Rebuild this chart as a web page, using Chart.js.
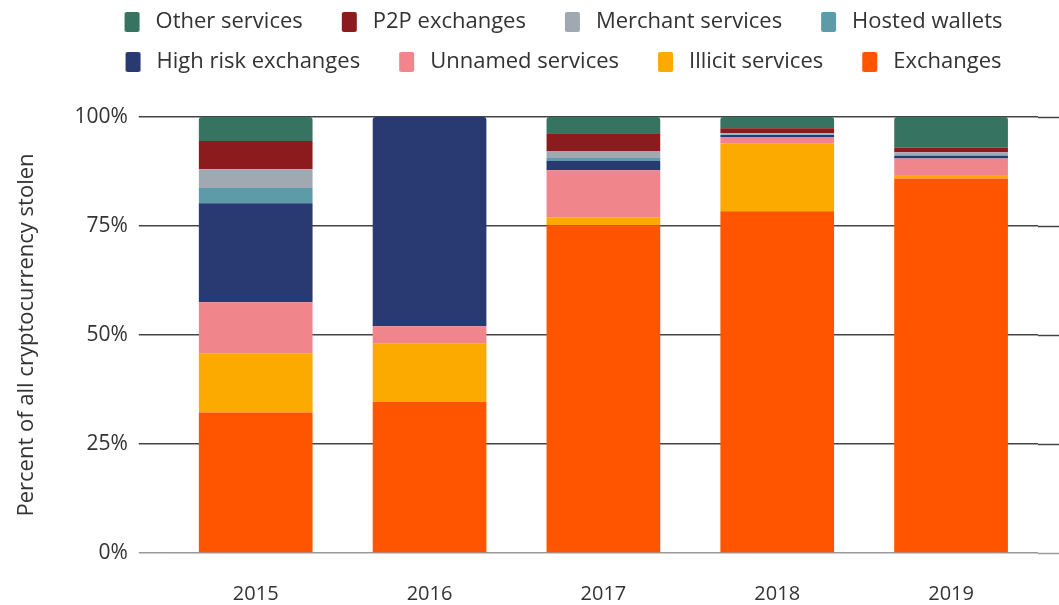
<!DOCTYPE html>
<html>
<head>
<meta charset="utf-8">
<script src="https://cdn.jsdelivr.net/npm/chart.js@4/dist/chart.umd.min.js"></script>
<style>
  html, body { margin: 0; padding: 0; background: #fff; }
  #wrap { width: 1059px; height: 605px; }
</style>
</head>
<body>
<div id="wrap"><canvas id="chart"></canvas></div>
<script>
// stolen crypto destinations, share of total (%)
const years = ['2015', '2016', '2017', '2018', '2019'];
const exchanges = [32.2, 34.7, 75.2, 78.4, 85.9];
const illicit = [13.5, 13.3, 1.8, 15.6, 0.8];
const unnamed = [11.8, 4.0, 10.8, 1.4, 3.8];
const highRisk = [22.7, 48.0, 2.1, 0.5, 0.6];
const hosted = [3.5, 0, 0.7, 0.1, 0.1];
const merchant = [4.3, 0, 1.6, 0.3, 0.7];
const p2p = [6.5, 0, 4.1, 1.1, 1.1];
const other = [5.5, 0, 3.7, 2.6, 7.0];
const yTicks = [0, 25, 50, 75, 100];

const FONT = '"Open Sans", "Noto Sans", sans-serif';
const TEXT = '#333333';

// bottom of the stack first, legend is reversed
const series = [
  { label: 'Exchanges', data: exchanges, color: '#ff5500' },
  { label: 'Illicit services', data: illicit, color: '#fcaa00' },
  { label: 'Unnamed services', data: unnamed, color: '#f0858b' },
  { label: 'High risk exchanges', data: highRisk, color: '#283a71' },
  { label: 'Hosted wallets', data: hosted, color: '#5c9ba7' },
  { label: 'Merchant services', data: merchant, color: '#a0a8b1' },
  { label: 'P2P exchanges', data: p2p, color: '#8b1b1c' },
  { label: 'Other services', data: other, color: '#367360' }
];

// legend swatch: small rounded box with some blank room on its left
const SWATCH_LEAD = 21;
const SWATCH_W = 15;
const SWATCH_H = 20;
const SWATCH_SLOT = SWATCH_LEAD + SWATCH_W + 5;

function makeSwatch(color) {
  const c = document.createElement('canvas');
  c.width = SWATCH_SLOT;
  c.height = SWATCH_H;
  const g = c.getContext('2d');
  g.fillStyle = color;
  g.beginPath();
  g.roundRect(SWATCH_LEAD, 0, SWATCH_W, SWATCH_H, 2);
  g.fill();
  return c;
}
const swatches = series.map(s => makeSwatch(s.color));

// grid lines run on to the right edge of the canvas
const extendGrid = {
  id: 'extendGrid',
  beforeDatasetsDraw(chart) {
    const { ctx, chartArea, scales } = chart;
    ctx.save();
    yTicks.forEach(v => {
      const y = Math.round(scales.y.getPixelForValue(v)) + 0.5;
      ctx.strokeStyle = v === 0 ? '#9a9a9a' : '#444444';
      ctx.lineWidth = 1.5;
      ctx.beginPath();
      ctx.moveTo(chartArea.right, y);
      ctx.lineTo(chart.width, y);
      ctx.stroke();
    });
    ctx.restore();
  }
};

// extra room under the legend, and nudge it sideways
const legendGap = {
  id: 'legendGap',
  beforeInit(chart) {
    const fit = chart.legend.fit;
    chart.legend.fit = function () {
      fit.bind(chart.legend)();
      this.height += 34;
    };
  },
  afterLayout(chart) {
    chart.legend.left += 29;
    chart.legend.right += 29;
  }
};

new Chart(document.getElementById('chart'), {
  type: 'bar',
  data: {
    labels: years,
    datasets: series.map(s => ({
      label: s.label,
      data: s.data,
      backgroundColor: s.color,
      borderWidth: 0,
      borderRadius: 3,
      borderSkipped: 'start',
      categoryPercentage: 1,
      barPercentage: 0.654
    }))
  },
  options: {
    responsive: true,
    maintainAspectRatio: false,
    animation: false,
    layout: { padding: { left: 10, right: 21, top: -7, bottom: -30 } },
    plugins: {
      tooltip: { enabled: false },
      legend: {
        reverse: true,
        position: 'top',
        labels: {
          color: TEXT,
          font: { family: FONT, size: 22 },
          usePointStyle: true,
          pointStyleWidth: SWATCH_SLOT,
          boxHeight: SWATCH_H,
          padding: 18,
          generateLabels(chart) {
            const items = Chart.defaults.plugins.legend.labels.generateLabels(chart);
            items.forEach(it => { it.pointStyle = swatches[it.datasetIndex]; });
            return items;
          }
        }
      }
    },
    scales: {
      x: {
        stacked: true,
        grid: { display: false, drawTicks: false },
        border: { display: false },
        ticks: { color: TEXT, font: { family: FONT, size: 20 }, padding: 29 }
      },
      y: {
        stacked: true,
        min: 0,
        max: 100,
        afterBuildTicks: axis => { axis.ticks = yTicks.map(v => ({ value: v })); },
        border: { display: false },
        grid: {
          color: ctx => ctx.tick && ctx.tick.value === 0 ? '#9a9a9a' : '#444444',
          lineWidth: 1.5,
          tickLength: 30,
          drawTicks: true
        },
        ticks: {
          color: TEXT,
          font: { family: FONT, size: 21 },
          padding: 11,
          callback: v => v + '%'
        },
        title: {
          display: true,
          text: 'Percent of all cryptocurrency stolen',
          color: TEXT,
          font: { family: FONT, size: 22 },
          padding: { bottom: 23 }
        }
      }
    }
  },
  plugins: [extendGrid, legendGap]
});
</script>
</body>
</html>
